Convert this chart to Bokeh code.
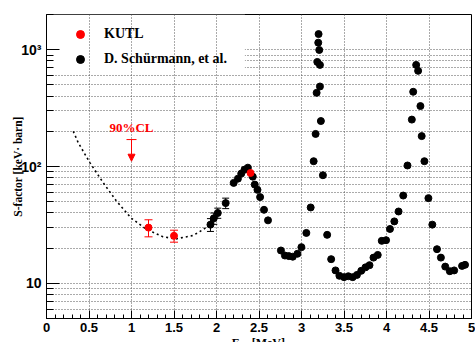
from bokeh.plotting import figure
from bokeh.models import (Range1d, FixedTicker, NumeralTickFormatter, Legend, LegendItem,
                          ColumnDataSource, Whisker, TeeHead, NormalHead, Arrow, Label, BoxAnnotation)
from bokeh.embed import file_html
from bokeh.resources import INLINE

# ---------------- data ----------------
kutl_E = [1.2, 1.5, 2.4]
kutl_S = [30.0, 25.5, 88.0]
kutl_err = [5.0, 3.0, 0.0]

sch_E = [1.929, 1.968, 2.015, 2.108, 2.202, 2.252, 2.291, 2.330, 2.369, 2.427, 2.450, 2.482,
         2.513, 2.559, 2.606, 2.758, 2.805, 2.851, 2.897, 2.952, 2.999, 3.057, 3.108, 3.143,
         3.166, 3.178, 3.186, 3.197, 3.201, 3.209, 3.217, 3.217, 3.228, 3.252, 3.302, 3.349,
         3.400, 3.446, 3.500, 3.551, 3.602, 3.652, 3.703, 3.753, 3.800, 3.847, 3.897, 3.944,
         3.995, 4.041, 4.092, 4.142, 4.197, 4.247, 4.298, 4.314, 4.349, 4.372, 4.399, 4.414,
         4.446, 4.493, 4.539, 4.594, 4.640, 4.691, 4.745, 4.796, 4.889, 4.924]
sch_S = [31.8, 36.0, 40.0, 48.6, 72.4, 78.7, 86.9, 94.0, 97.7, 81.9, 70.0, 63.1,
         54.7, 42.6, 34.6, 19.1, 17.3, 17.1, 16.9, 17.9, 20.4, 27.0, 44.6, 111.0,
         190.0, 427.0, 785.0, 1148.0, 1360.0, 994.0, 741.0, 484.0, 245.0, 84.2, 26.0, 16.1,
         12.9, 11.6, 11.3, 11.5, 11.3, 11.8, 12.8, 13.7, 14.3, 16.6, 17.5, 23.1,
         23.4, 29.2, 33.9, 41.2, 56.4, 102.0, 252.0, 436.0, 741.0, 659.0, 329.0, 182.0,
         111.0, 53.6, 31.8, 19.6, 16.6, 13.9, 12.7, 12.9, 14.1, 14.4]
sch_err = [4.0, 4.0, 4.0, 5.0]  # first four points carry error bars

fit_E = [0.315, 0.373, 0.51, 0.665, 0.82, 0.995, 1.17, 1.365, 1.52, 1.715, 1.79, 1.87, 1.93]
fit_S = [200.0, 160.0, 108.0, 73.0, 51.0, 36.2, 29.2, 25.1, 24.0, 25.6, 27.3, 29.8, 32.0]

ul_E = [1.0]
ul_S = [170.0]
ul_to = [111.0]
ul_text = "90%CL"

x_ticks = [0, 0.5, 1, 1.5, 2, 2.5, 3, 3.5, 4, 4.5, 5]
x_minor = [i / 10 for i in range(0, 51)]
y_ticks = [10, 100, 1000]
y_labels = {10: "10", 100: "10\u00b2", 1000: "10\u00b3"}
y_minor = [6, 7, 8, 9, 20, 30, 40, 50, 60, 70, 80, 90, 200, 300, 400, 500, 600, 700, 800, 900, 2000]

RED = "#ff0000"
SERIF = "Liberation Serif"
SANS = "Liberation Sans"

# ---------------- figure ----------------
p = figure(width=475, height=342, x_range=Range1d(0, 5), y_range=Range1d(5, 2000),
           y_axis_type="log", output_backend="svg", toolbar_location=None,
           min_border_left=44, min_border_right=4, min_border_top=13, min_border_bottom=24)
p.outline_line_color = "black"
p.outline_line_width = 1
p.background_fill_color = "white"
p.border_fill_color = "white"

# axes
xa = p.xaxis[0]
xa.ticker = FixedTicker(ticks=x_ticks, minor_ticks=x_minor)
xa.formatter = NumeralTickFormatter(format="0.[0]")
xa.major_tick_in = 8
xa.major_tick_out = 0
xa.minor_tick_in = 4
xa.minor_tick_out = 0
xa.major_label_standoff = 4
xa.major_label_text_font = SANS
xa.major_label_text_font_style = "bold"
xa.major_label_text_font_size = "13px"
xa.major_label_text_color = "black"
xa.axis_line_color = "black"

ya = p.yaxis[0]
ya.ticker = FixedTicker(ticks=y_ticks, minor_ticks=y_minor)
ya.major_label_overrides = y_labels
ya.major_tick_in = 13
ya.major_tick_out = 0
ya.minor_tick_in = 7
ya.minor_tick_out = 0
ya.major_label_standoff = 5
ya.major_label_text_font = SANS
ya.major_label_text_font_style = "bold"
ya.major_label_text_font_size = "14px"
ya.major_label_text_color = "black"
ya.axis_line_color = "black"
ya.axis_label = "S-factor [keV\u00b7 barn]"
ya.axis_label_standoff = -6
ya.axis_label_text_font = SERIF
ya.axis_label_text_font_style = "bold"
ya.axis_label_text_font_size = "11.5px"
ya.axis_label_text_color = "black"

# grids
for g in (p.xgrid[0], p.ygrid[0]):
    g.grid_line_color = "#555555"
    g.grid_line_dash = "1 2"
    g.grid_line_width = 1
p.ygrid[0].minor_grid_line_color = "#555555"
p.ygrid[0].minor_grid_line_dash = "1 2"
p.ygrid[0].level = "image"
p.xgrid[0].level = "underlay"

# white area behind legend hides horizontal grid lines there
mask = BoxAnnotation(left=0, right=2.334, bottom=650, top=2000, fill_color="white",
                     fill_alpha=1.0, line_alpha=0, level="image")
p.add_layout(mask)

# fit curve
p.line(fit_E, fit_S, line_color="black", line_width=1.6, line_dash="2 3")

# Schurmann data
sch_src = ColumnDataSource(dict(E=sch_E, S=sch_S))
r_sch = p.scatter("E", "S", source=sch_src, size=7, color="black")
ne = len(sch_err)
wsrc = ColumnDataSource(dict(E=sch_E[:ne],
                             up=[s + e for s, e in zip(sch_S[:ne], sch_err)],
                             lo=[s - e for s, e in zip(sch_S[:ne], sch_err)]))
p.add_layout(Whisker(source=wsrc, base="E", upper="up", lower="lo", dimension="height",
                     line_color="black", line_width=1,
                     upper_head=TeeHead(size=7, line_color="black"),
                     lower_head=TeeHead(size=7, line_color="black")))

# KUTL data
k_src = ColumnDataSource(dict(E=kutl_E, S=kutl_S))
r_k = p.scatter("E", "S", source=k_src, size=7, color=RED)
kidx = [i for i, e in enumerate(kutl_err) if e > 0]
ksrc = ColumnDataSource(dict(E=[kutl_E[i] for i in kidx],
                             up=[kutl_S[i] + kutl_err[i] for i in kidx],
                             lo=[kutl_S[i] - kutl_err[i] for i in kidx]))
p.add_layout(Whisker(source=ksrc, base="E", upper="up", lower="lo", dimension="height",
                     line_color=RED, line_width=1,
                     upper_head=TeeHead(size=8, line_color=RED),
                     lower_head=TeeHead(size=8, line_color=RED)))

# upper limit arrow
asrc = ColumnDataSource(dict(x0=ul_E, y0=ul_S, x1=ul_E, y1=ul_to))
p.add_layout(Arrow(source=asrc, x_start="x0", y_start="y0", x_end="x1", y_end="y1",
                   line_color=RED, line_width=1,
                   start=TeeHead(size=10, line_color=RED, line_width=1),
                   end=NormalHead(size=7, fill_color=RED, line_color=RED)))
p.add_layout(Label(x=ul_E[0], y=214, text=ul_text, text_color=RED, text_font=SERIF,
                   text_font_style="bold", text_font_size="13px", text_align="center",
                   text_baseline="middle"))

# legend
legend = Legend(items=[LegendItem(label="KUTL", renderers=[r_k]),
                       LegendItem(label="D. Sch\u00fcrmann, et al.", renderers=[r_sch])],
                location="top_left", margin=0, padding=10, spacing=5,
                glyph_width=48, glyph_height=20, label_height=20, label_standoff=0,
                background_fill_alpha=0, border_line_alpha=0,
                label_text_font=SERIF, label_text_font_style="bold",
                label_text_font_size="14px", label_text_color="black")
p.add_layout(legend)

# x-axis title: drawn from side panels (not clipped by the frame), shifted down to the
# bottom edge where the reference shows it partly cut off
p.add_layout(Label(x=2.178, y=-321, x_units="data", y_units="screen",
                   text="E\u00a0\u00a0\u00a0\u00a0[MeV]",
                   text_font=SERIF, text_font_style="bold", text_font_size="12px",
                   text_align="left", text_baseline="top", text_color="black"), "above")
p.add_layout(Label(x=2.272, y=-21, x_units="data", y_units="screen", text="cm",
                   text_font=SERIF, text_font_style="bold", text_font_size="7px",
                   text_align="left", text_baseline="top", text_color="black"), "left")

open("out.html", "w").write(file_html(p, INLINE))
